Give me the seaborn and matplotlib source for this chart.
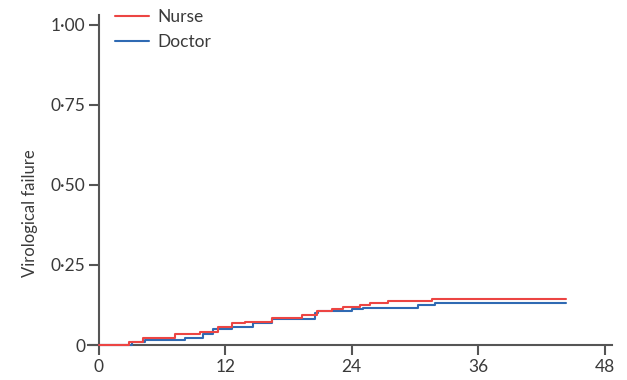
import matplotlib
matplotlib.use("Agg")
import matplotlib.pyplot as plt
import seaborn as sns
import pandas as pd

# Kaplan-Meier style step data (months, cumulative failure)
nurse_t = [0, 2.9, 4.2, 7.2, 9.6, 11.3, 12.6, 13.9, 16.4, 19.3, 20.7, 22.1, 23.2, 24.8, 25.7, 27.4, 31.6, 44.3]
nurse_y = [0, 0.010, 0.023, 0.034, 0.041, 0.057, 0.068, 0.073, 0.083, 0.093, 0.107, 0.112, 0.118, 0.126, 0.130, 0.137, 0.143, 0.143]

doctor_t = [0, 3.1, 4.4, 8.2, 9.9, 10.8, 12.6, 14.6, 16.4, 20.5, 20.8, 24.0, 25.1, 30.3, 31.9, 44.3]
doctor_y = [0, 0.008, 0.016, 0.023, 0.033, 0.049, 0.055, 0.068, 0.080, 0.099, 0.107, 0.111, 0.116, 0.125, 0.130, 0.130]

groups = ["Nurse", "Doctor"]
colors = {"Nurse": "#ec4543", "Doctor": "#2f6ab3"}

x_ticks = [0, 12, 24, 36, 48]
y_ticks = [0, 0.25, 0.50, 0.75, 1.00]
y_tick_labels = ["0", "0\u00b725", "0\u00b750", "0\u00b775", "1\u00b700"]

df = pd.concat([
    pd.DataFrame({"month": nurse_t, "failure": nurse_y, "group": "Nurse"}),
    pd.DataFrame({"month": doctor_t, "failure": doctor_y, "group": "Doctor"}),
])

sns.set_style("white")
plt.rcParams["font.family"] = ["Lato", "DejaVu Sans"]

fig = plt.figure(figsize=(6.27, 3.80), dpi=100)
ax = fig.add_axes([0.141, 0.092, 0.835, 0.868])

sns.lineplot(data=df, x="month", y="failure", hue="group", hue_order=groups,
             palette=colors, estimator=None, drawstyle="steps-post",
             linewidth=1.5, ax=ax)
# draw the curves over the axis line, nurse on top, as in the original
for i, line in enumerate(ax.lines):
    line.set_zorder(4 - i)
    line.set_clip_on(False)

ax.set_xlim(-1, 48.7)
ax.set_ylim(0, 1.03)
ax.spines["left"].set_position(("data", 0))
for side in ["top", "right"]:
    ax.spines[side].set_visible(False)
for side in ["left", "bottom"]:
    ax.spines[side].set_color("#555555")
    ax.spines[side].set_linewidth(1.5)

ax.set_xticks(x_ticks)
ax.set_yticks(y_ticks)
ax.set_yticklabels(y_tick_labels)
ax.tick_params(axis="both", direction="out", length=7, width=1.5, color="#555555",
               labelsize=12.5, labelcolor="#3a3a3a", pad=3,
               left=True, bottom=True)

ax.set_xlabel("")
ax.set_ylabel("Virological failure", fontsize=12, color="#3a3a3a")
ax.yaxis.set_label_coords(-0.096, 0.40)

leg = ax.legend(loc="upper left", bbox_to_anchor=(0.037, 1.04), frameon=False,
                fontsize=12.5, handlelength=2.0, handletextpad=0.45,
                labelspacing=0.5, borderaxespad=0)
for t in leg.get_texts():
    t.set_color("#3a3a3a")

fig.savefig("out.png", dpi=100)
